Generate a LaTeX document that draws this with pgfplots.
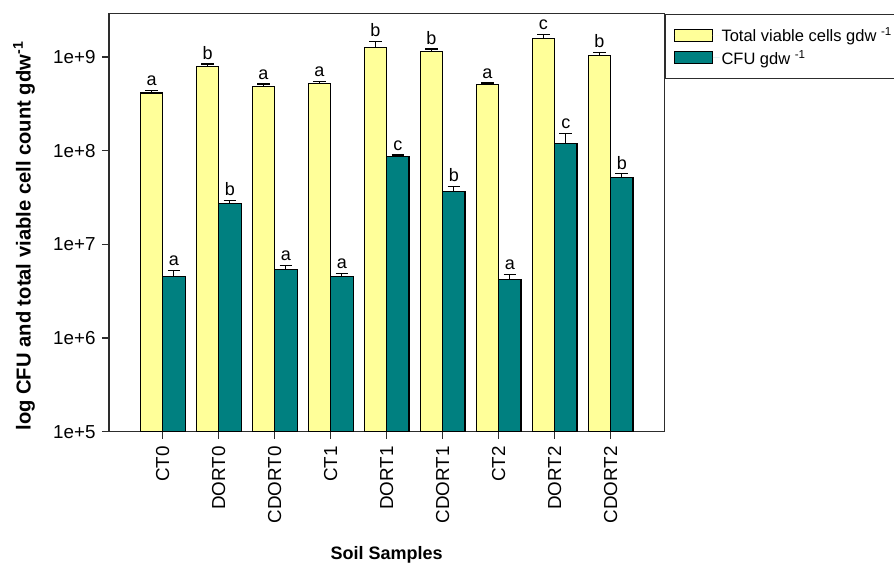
\documentclass[border=0pt]{standalone}
\usepackage{pgfplots}
\pgfplotsset{compat=1.18}
\usepackage{pgfplotstable}
\usepackage{fontspec}
\setmainfont{Liberation Sans}

\definecolor{cellyellow}{RGB}{255,255,153}
\definecolor{cfuteal}{RGB}{0,128,128}
\definecolor{framegray}{RGB}{45,45,45}

% sample, total viable cells (mean, error), CFU (mean, error), significance letters
\pgfplotstableread{
x  tv       tverr    cfu      cfuerr   tvl  cful
0  4.13e8   0.27e8   4.50e6   0.75e6   a    a
1  7.94e8   0.47e8   2.75e7   0.20e7   b    b
2  4.82e8   0.33e8   5.35e6   0.59e6   a    a
3  5.19e8   0.27e8   4.57e6   0.35e6   a    a
4  1.256e9  0.20e9   8.58e7   0.42e7   b    c
5  1.14e9   0.077e9  3.69e7   0.48e7   b    b
6  5.07e8   0.21e8   4.25e6   0.51e6   a    a
7  1.58e9   0.15e9   1.19e8   0.34e8   c    c
8  1.03e9   0.08e9   5.16e7   0.49e7   b    b
}\counts

\begin{document}
\begin{tikzpicture}
\begin{axis}[
  at={(0,0)}, anchor=south west,
  scale only axis, width=555.3pt, height=418pt,
  ymode=log, log origin=infty,
  ymin=1e5, ymax=2.9e9,
  xmin=-0.96, xmax=8.96,
  xtick={0,...,8},
  xticklabels={CT0,DORT0,CDORT0,CT1,DORT1,CDORT1,CT2,DORT2,CDORT2},
  ytick={1e5,1e6,1e7,1e8,1e9},
  yticklabels={1e+5,1e+6,1e+7,1e+8,1e+9},
  minor y tick style={draw=none},
  tick align=outside, xtick pos=bottom, ytick pos=left,
  major tick length=7pt,
  axis line style={framegray, line width=1.3pt},
  every tick/.style={framegray, line width=1.1pt},
  tick label style={font=\fontsize{18.8}{22}\selectfont, text=black},
  xticklabel style={rotate=90, anchor=east, xshift=-4pt, yshift=0pt},
  yticklabel style={anchor=east, xshift=-3pt},
  ylabel={\textbf{log CFU and total viable cell count gdw\textsuperscript{-1}}},
  ylabel style={at={(axis description cs:-0.153,0.468)}, anchor=center,
    font=\fontsize{20.2}{24}\selectfont},
  xlabel={\textbf{Soil Samples}},
  xlabel style={at={(axis description cs:0.5,-0.294)}, anchor=center,
    font=\fontsize{18}{22}\selectfont},
  legend style={at={(1,1)}, anchor=north west, draw=framegray, line width=1.3pt,
    font=\fontsize{16.5}{19}\selectfont, inner xsep=9pt, inner ysep=11pt,
    row sep=3pt, cells={anchor=west}},
  legend image code/.code={%
    \draw[#1, line width=1.1pt] (0pt,-6pt) rectangle (38pt,6pt);
    \path[draw=none] (0pt,0pt) -- (45pt,0pt);},
  every node near coord/.append style={anchor=south, inner sep=0pt, yshift=4.5pt,
    font=\fontsize{18}{20}\selectfont, text=black},
]
% total viable cells
\addplot[ybar, bar width=0.4, bar shift=-0.2, fill=cellyellow, draw=black, line width=1.1pt]
  table[x=x, y=tv]{\counts};
\addlegendentry{Total viable cells gdw \textsuperscript{-1}}
% colony forming units
\addplot[ybar, bar width=0.4, bar shift=0.2, fill=cfuteal, draw=black, line width=1.1pt]
  table[x=x, y=cfu]{\counts};
\addlegendentry{CFU gdw \textsuperscript{-1}}
% upper error bars, centred on their bars
\addplot[draw=none, forget plot,
  error bars/.cd, y dir=plus, y explicit,
  error bar style={line width=1.1pt, black},
  error mark options={rotate=90, mark size=6.3pt, line width=1.1pt, black}]
  table[x expr=\thisrow{x}-0.2, y=tv, y error=tverr]{\counts};
\addplot[draw=none, forget plot,
  error bars/.cd, y dir=plus, y explicit,
  error bar style={line width=1.1pt, black},
  error mark options={rotate=90, mark size=6.3pt, line width=1.1pt, black}]
  table[x expr=\thisrow{x}+0.2, y=cfu, y error=cfuerr]{\counts};
% significance letters above the error bars
\addplot[draw=none, forget plot, nodes near coords, point meta=explicit symbolic]
  table[x expr=\thisrow{x}-0.2, y expr=\thisrow{tv}+\thisrow{tverr}, meta=tvl]{\counts};
\addplot[draw=none, forget plot, nodes near coords, point meta=explicit symbolic]
  table[x expr=\thisrow{x}+0.2, y expr=\thisrow{cfu}+\thisrow{cfuerr}, meta=cful]{\counts};
\end{axis}
\pgfresetboundingbox
\useasboundingbox (-109pt,-132.3pt) rectangle (785pt,431.7pt);
\end{tikzpicture}
\end{document}
